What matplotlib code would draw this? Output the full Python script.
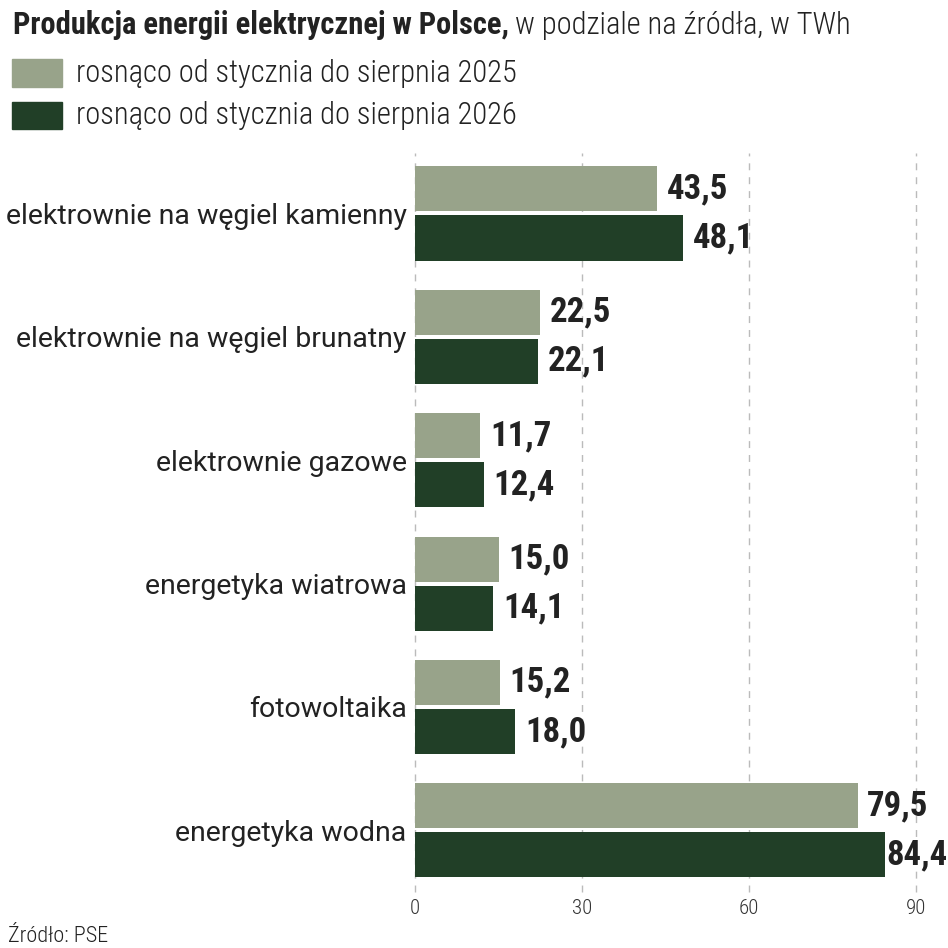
import matplotlib.pyplot as plt
import numpy as np

categories = ['elektrownie na węgiel kamienny', 'elektrownie na węgiel brunatny',
              'elektrownie gazowe', 'energetyka wiatrowa', 'fotowoltaika',
              'energetyka wodna']
v2025 = [43.5, 22.5, 11.7, 15.0, 15.2, 79.5]
v2026 = [48.1, 22.1, 12.4, 14.1, 18.0, 84.4]
series_labels = ['rosnąco od stycznia do sierpnia 2025',
                 'rosnąco od stycznia do sierpnia 2026']
xticks = [0, 30, 60, 90]

light = '#98a38a'
dark = '#213f27'
cond = ['Roboto Condensed', 'PT Sans Narrow', 'DejaVu Sans']
wide = ['Roboto', 'DejaVu Sans']
ink = '#222222'
W = 948

fig = plt.figure(figsize=(9.48, 9.48), dpi=100)
ax = fig.add_axes([415/W, 1-892/W, (916-415)/W, (892-153)/W])

y = np.arange(len(categories))
h = 0.365
off = 0.199
ax.barh(y - off, v2025, height=h, color=light)
ax.barh(y + off, v2026, height=h, color=dark)

labels = []
for yy, v in list(zip(y - off, v2025)) + list(zip(y + off, v2026)):
    t = ax.annotate(f'{v:.1f}'.replace('.', ','), (v, yy), xytext=(7, 0),
                    textcoords='offset points', va='center', ha='left',
                    fontsize=25, fontweight='bold', family=cond, color=ink,
                    annotation_clip=False)
    labels.append(t)

ax.set_xlim(0, 90)
ax.set_ylim(5.50, -0.49)
ax.set_xticks(xticks)
ax.set_xticklabels([str(t) for t in xticks], fontsize=15, family=cond,
                   fontweight='light', color='#333333')
ax.set_yticks(y)
ax.set_yticklabels(categories, fontsize=20.5, family=wide, color=ink)
ax.tick_params(length=0)
ax.tick_params(axis='y', pad=6)
ax.tick_params(axis='x', pad=5)
for s in ax.spines.values():
    s.set_visible(False)
ax.grid(axis='x', color='#bbbbbb', linestyle=(0, (5, 5)), linewidth=1)
ax.set_axisbelow(True)
for gl in ax.get_xgridlines():
    gl.set_clip_on(False)

t1 = fig.text(13/W, 1-25/W, 'Produkcja energii elektrycznej w Polsce,',
              fontsize=22, fontweight='bold', family=cond, va='center', color=ink)
fig.canvas.draw()
bb = t1.get_window_extent()
fig.text((bb.x1 + 6)/W, 1-25/W, 'w podziale na źródła, w TWh',
         fontsize=22, fontweight='light', family=cond, va='center', color=ink)

# values that would run off the right edge are pulled back inside
for t in labels:
    e = t.get_window_extent()
    if e.x1 > W:
        x0, y0 = t.xyann
        t.xyann = (max(1, x0 - (e.x1 - W) * 72 / 100), y0)

fig.patches.append(plt.Rectangle((12/W, 1-87/W), 50/W, 28/W,
                                 transform=fig.transFigure, color=light))
fig.patches.append(plt.Rectangle((12/W, 1-129/W), 50/W, 27/W,
                                 transform=fig.transFigure, color=dark))
fig.text(76/W, 1-74/W, series_labels[0], fontsize=22, fontweight='light',
         family=cond, va='center', color=ink)
fig.text(76/W, 1-116/W, series_labels[1], fontsize=22, fontweight='light',
         family=cond, va='center', color=ink)

fig.text(8/W, 1-936/W, 'Źródło: PSE', fontsize=16, fontweight='light',
         family=cond, va='center', color=ink)

fig.savefig('out.png', dpi=100)
